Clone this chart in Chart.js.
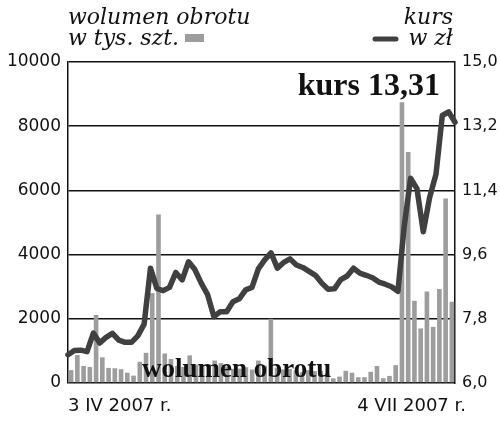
<!DOCTYPE html>
<html>
<head>
<meta charset="utf-8">
<script src="https://cdn.jsdelivr.net/npm/chart.js@4"></script>
<style>
  html, body { margin: 0; padding: 0; background: #fff; }
  #wrap { width: 500px; height: 427px; }
</style>
</head>
<body>
<div id="wrap"><canvas id="myChart" width="500" height="427"></canvas></div>
<script>
// sesje od 3 IV do 4 VII 2007
const days = [
  '03.04','04.04','05.04','10.04','11.04','12.04','13.04','16.04','17.04','18.04',
  '19.04','20.04','23.04','24.04','25.04','26.04','27.04','30.04','02.05','04.05',
  '07.05','08.05','09.05','10.05','11.05','14.05','15.05','16.05','17.05','18.05',
  '21.05','22.05','23.05','24.05','25.05','28.05','29.05','30.05','31.05','01.06',
  '04.06','05.06','06.06','08.06','11.06','12.06','13.06','14.06','15.06','18.06',
  '19.06','20.06','21.06','22.06','25.06','26.06','27.06','28.06','29.06','02.07',
  '03.07','04.07'
];

// wolumen obrotu, tys. szt.
const volume = [
  400, 870, 530, 500, 2120, 800, 470, 460, 430, 320,
  230, 660, 940, 2800, 5250, 920, 750, 530, 500, 860,
  570, 550, 590, 700, 620, 510, 440, 450, 490, 420,
  700, 540, 2000, 480, 420, 440, 390, 340, 400, 370,
  380, 300, 145, 200, 380, 320, 180, 180, 350, 530,
  150, 220, 555, 8750, 7200, 2560, 1700, 2850, 1750, 2930,
  5750, 2530
];

// kurs, zł
const price = [
  6.79, 6.91, 6.92, 6.88, 7.40, 7.12, 7.28, 7.39, 7.20, 7.14,
  7.14, 7.32, 7.65, 9.22, 8.65, 8.59, 8.68, 9.10, 8.89, 9.40,
  9.18, 8.80, 8.48, 7.86, 8.00, 8.00, 8.28, 8.36, 8.61, 8.68,
  9.20, 9.45, 9.65, 9.22, 9.38, 9.48, 9.31, 9.24, 9.13, 9.02,
  8.80, 8.63, 8.64, 8.90, 9.00, 9.22, 9.08, 9.02, 8.95, 8.83,
  8.77, 8.70, 8.57, 10.40, 11.74, 11.45, 10.24, 11.20, 11.85, 13.50,
  13.60, 13.31
];

const volTicks = [0, 2000, 4000, 6000, 8000, 10000];
const priceTicks = [6.0, 7.8, 9.6, 11.4, 13.2, 15.0];
const xTickLabels = ['3 IV 2007 r.', '4 VII 2007 r.'];

const volColor = '#9d9d9d';
const lineColor = '#404040';
const ink = '#111';

function fmt(v){
    return v.toFixed(1).replace('.', ',');
}

const napisy = {
    id: 'napisy',
    afterDraw(chart){
        const ctx = chart.ctx;
        const a = chart.chartArea;
        ctx.save();
        ctx.fillStyle = ink;
        ctx.textBaseline = 'alphabetic';

        // legenda
        ctx.font = 'italic 22px "DejaVu Serif"';
        ctx.textAlign = 'left';
        ctx.fillText('wolumen obrotu', 68, 24);
        ctx.fillText('w tys. szt.', 68, 45);
        ctx.textAlign = 'right';
        ctx.fillText('kurs', 453, 24);
        ctx.fillText('w zł', 453, 45);

        ctx.fillStyle = volColor;
        ctx.fillRect(185, 34, 19, 8);
        ctx.strokeStyle = lineColor;
        ctx.lineWidth = 5;
        ctx.lineCap = 'round';
        ctx.beginPath();
        ctx.moveTo(375, 39);
        ctx.lineTo(396, 39);
        ctx.stroke();

        // wyróżnienia
        ctx.fillStyle = ink;
        ctx.font = 'bold 32px "Liberation Serif"';
        ctx.textAlign = 'right';
        ctx.fillText('kurs ' + price[price.length - 1].toFixed(2).replace('.', ','), 440, 95);
        ctx.font = 'bold 27px "Liberation Serif"';
        ctx.textAlign = 'left';
        ctx.fillText('wolumen obrotu', 142, 377);

        // daty pod osią
        ctx.font = '18px "DejaVu Sans"';
        ctx.textAlign = 'left';
        ctx.fillText(xTickLabels[0], a.left, 411);
        ctx.textAlign = 'right';
        ctx.fillText(xTickLabels[1], a.right + 11, 411);
        ctx.restore();
    }
};

const ctx = document.getElementById('myChart').getContext('2d');
Chart.defaults.font.family = '"DejaVu Sans", sans-serif';

const myChart = new Chart(ctx, {
    type: 'bar',
    data: {
        labels: days,
        datasets: [{
            type: 'line',
            label: 'kurs w zł',
            data: price,
            xAxisID: 'x2',
            yAxisID: 'yKurs',
            borderColor: lineColor,
            borderWidth: 5.5,
            borderJoinStyle: 'round',
            borderCapStyle: 'round',
            pointRadius: 0,
            tension: 0,
            clip: false,
            order: 1
        }, {
            label: 'wolumen obrotu w tys. szt.',
            data: volume,
            xAxisID: 'x',
            yAxisID: 'yVol',
            backgroundColor: volColor,
            grouped: false,
            barPercentage: 0.74,
            categoryPercentage: 1,
            order: 2
        }]
    },
    options: {
        responsive: false,
        animation: false,
        layout: { padding: { left: 0, right: 0, top: 62, bottom: 44 } },
        plugins: {
            legend: { display: false },
            tooltip: { enabled: false }
        },
        scales: {
            x: {
                type: 'category',
                offset: true,
                display: false
            },
            x2: {
                type: 'category',
                labels: days,
                offset: false,
                display: false
            },
            yVol: {
                position: 'left',
                min: 0,
                max: 10000,
                afterBuildTicks: s => { s.ticks = volTicks.map(v => ({ value: v })); },
                afterFit: s => { s.width = 68; },
                ticks: {
                    color: ink,
                    font: { size: 17 },
                    padding: 7,
                    callback: v => String(v)
                },
                grid: {
                    color: ink,
                    lineWidth: 1.5,
                    drawTicks: false
                },
                border: { display: true, color: ink, width: 1.5 }
            },
            yKurs: {
                position: 'right',
                min: 6,
                max: 15,
                afterBuildTicks: s => { s.ticks = priceTicks.map(v => ({ value: v })); },
                afterFit: s => { s.width = 45; },
                ticks: {
                    color: ink,
                    font: { size: 16 },
                    padding: 7,
                    callback: v => fmt(v)
                },
                grid: { display: false, drawTicks: false },
                border: { display: true, color: ink, width: 1.5 }
            }
        }
    },
    plugins: [napisy]
});
</script>
</body>
</html>
